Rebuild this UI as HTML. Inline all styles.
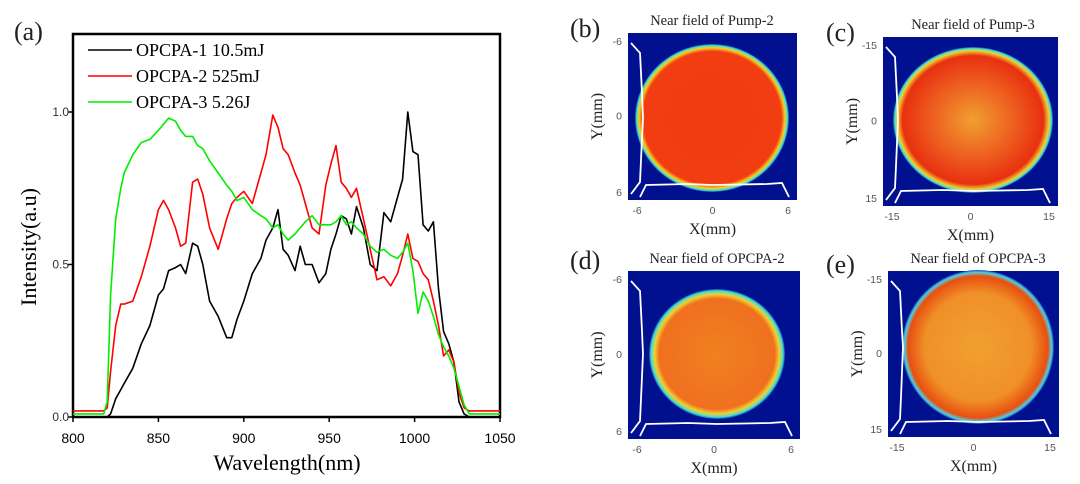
<!DOCTYPE html>
<html><head><meta charset="utf-8"><style>
body{margin:0;background:#fff;width:1080px;height:484px;overflow:hidden}
svg{position:absolute;left:0;top:0}
</style></head><body>
<svg id="s" width="1080" height="484" xmlns="http://www.w3.org/2000/svg">
<defs>
<radialGradient id="gb"><stop offset="0" stop-color="#f03a10"/><stop offset="0.9" stop-color="#f23c12"/><stop offset="0.95" stop-color="#f6d020"/><stop offset="0.98" stop-color="#40e0d0"/><stop offset="1" stop-color="#1040c0"/></radialGradient>
<radialGradient id="gc"><stop offset="0" stop-color="#f0a030"/><stop offset="0.5" stop-color="#ee6020"/><stop offset="0.88" stop-color="#e83010"/><stop offset="0.95" stop-color="#f0d030"/><stop offset="0.98" stop-color="#40e0d0"/><stop offset="1" stop-color="#1040c0"/></radialGradient>
<radialGradient id="gd"><stop offset="0" stop-color="#f08020"/><stop offset="0.85" stop-color="#f07020"/><stop offset="0.92" stop-color="#f0d030"/><stop offset="0.97" stop-color="#40e0d0"/><stop offset="1" stop-color="#1040c0"/></radialGradient>
<radialGradient id="ge"><stop offset="0" stop-color="#f0a030"/><stop offset="0.7" stop-color="#f09028"/><stop offset="0.92" stop-color="#e85010"/><stop offset="0.97" stop-color="#50d0e0"/><stop offset="1" stop-color="#1040c0"/></radialGradient>
</defs>
<g font-family="Liberation Serif, serif" fill="#222">
<text x="14" y="40" font-size="26">(a)</text>
<text x="570" y="37" font-size="26">(b)</text>
<text x="826" y="41" font-size="26">(c)</text>
<text x="570" y="269" font-size="26">(d)</text>
<text x="826" y="273" font-size="26">(e)</text>
</g>
<g id="chart"></g>
<g id="imgs"></g>
</svg>
<script>
const wavelengths=[800,810,818,820,822,825,828,830,835,840,845,850,853,856,860,863,866,870,873,876,880,885,890,893,896,900,905,910,913,917,920,923,926,930,933,936,940,944,948,951,954,957,960,963,966,970,974,978,982,986,990,993,996,999,1002,1005,1008,1011,1014,1017,1020,1023,1026,1029,1032,1040,1050];
const opcpa1=[0,0,0,0,0.01,0.06,0.09,0.11,0.16,0.24,0.3,0.4,0.42,0.48,0.49,0.5,0.47,0.57,0.56,0.5,0.38,0.33,0.26,0.26,0.32,0.38,0.47,0.52,0.58,0.62,0.68,0.55,0.53,0.48,0.56,0.5,0.5,0.44,0.47,0.55,0.6,0.66,0.65,0.6,0.69,0.62,0.5,0.48,0.67,0.64,0.72,0.78,1.0,0.87,0.86,0.63,0.61,0.64,0.42,0.28,0.24,0.18,0.05,0.01,0,0,0];
const opcpa2=[0.02,0.02,0.02,0.03,0.15,0.3,0.37,0.37,0.38,0.46,0.56,0.68,0.71,0.68,0.62,0.56,0.57,0.77,0.78,0.73,0.62,0.55,0.65,0.7,0.72,0.74,0.7,0.8,0.86,0.99,0.95,0.88,0.86,0.8,0.76,0.7,0.62,0.6,0.76,0.83,0.89,0.77,0.75,0.72,0.75,0.65,0.55,0.45,0.46,0.43,0.47,0.53,0.6,0.52,0.51,0.47,0.45,0.38,0.3,0.2,0.22,0.18,0.08,0.03,0.02,0.02,0.02];
const opcpa3=[0.01,0.01,0.01,0.05,0.4,0.65,0.75,0.8,0.86,0.9,0.91,0.94,0.96,0.98,0.97,0.94,0.92,0.92,0.89,0.88,0.84,0.8,0.76,0.74,0.71,0.72,0.68,0.66,0.65,0.62,0.63,0.6,0.58,0.6,0.62,0.64,0.66,0.63,0.63,0.63,0.64,0.66,0.63,0.64,0.62,0.6,0.56,0.54,0.55,0.53,0.52,0.54,0.57,0.48,0.34,0.41,0.38,0.33,0.27,0.23,0.2,0.16,0.1,0.04,0.01,0.01,0.01];
const xTicks=[800,850,900,950,1000,1050];
const yTicks=[0.0,0.5,1.0];
const seriesNames=["OPCPA-1 10.5mJ","OPCPA-2 525mJ","OPCPA-3 5.26J"];
const NS="http://www.w3.org/2000/svg";
const L=73,R=500,T=34,B=417;
const xs=v=>L+(v-800)/250*(R-L);
const ys=v=>B-v*(B-112);
function mk(t,a,p){const e=document.createElementNS(NS,t);for(const k in a)e.setAttribute(k,a[k]);(p||document.getElementById('chart')).appendChild(e);return e;}
let e;
e=mk('rect',{x:L,y:T,width:R-L,height:B-T,fill:'none',stroke:'#000','stroke-width':2.5});

xTicks.forEach(t=>{
 e=mk('line',{x1:xs(t),x2:xs(t),y1:B,y2:B+5,stroke:'#000','stroke-width':1.5});
 
 e=mk('text',{x:xs(t),y:B+26,'text-anchor':'middle','font-family':'Liberation Sans, sans-serif','font-size':14});
 e.textContent=t;
});
yTicks.forEach(t=>{
 e=mk('line',{x1:L-5,x2:L,y1:ys(t),y2:ys(t),stroke:'#000','stroke-width':1.5});
 
 e=mk('text',{x:L-4,y:ys(t)+4,'text-anchor':'end','font-family':'Liberation Sans, sans-serif','font-size':12,fill:'#333'});
 e.textContent=t.toFixed(1);
});
e=mk('text',{x:287,y:470,'text-anchor':'middle','font-family':'Liberation Serif, serif','font-size':22});
e.textContent='Wavelength(nm)';
e=mk('text',{x:0,y:0,'text-anchor':'middle','font-family':'Liberation Serif, serif','font-size':22,transform:'translate(36,247) rotate(-90)'});
e.textContent='Intensity(a.u)';
const cols=['#000','#ff0000','#00ee00'];
[opcpa1,opcpa2,opcpa3].forEach((s,i)=>{
 e=mk('polyline',{points:s.map((v,j)=>xs(wavelengths[j]).toFixed(1)+','+ys(v).toFixed(1)).join(' '),fill:'none',stroke:cols[i],'stroke-width':1.6,'stroke-linejoin':'round'});
 
});
seriesNames.forEach((n,i)=>{
 const y=50+i*26;
 e=mk('line',{x1:88,x2:132,y1:y,y2:y,stroke:cols[i],'stroke-width':1.6});
 
 e=mk('text',{x:136,y:y+6,'font-family':'Liberation Serif, serif','font-size':18});
 e.textContent=n;
});
const panels=[
 {n:'b',title:'Near field of Pump-2',x:628,y:33,w:169,h:167,cx:712,cy:118,rx:74,ry:71,g:'gb',t:['-6','0','6']},
 {n:'c',title:'Near field of Pump-3',x:883,y:37,w:175,h:169,cx:973,cy:120,rx:77,ry:70,g:'gc',t:['-15','0','15']},
 {n:'d',title:'Near field of OPCPA-2',x:628,y:271,w:172,h:168,cx:717,cy:354,rx:65,ry:62,g:'gd',t:['-6','0','6']},
 {n:'e',title:'Near field of OPCPA-3',x:888,y:271,w:171,h:166,cx:978,cy:347,rx:73,ry:74,g:'ge',t:['-15','0','15']}];
const ig=document.getElementById('imgs');
panels.forEach(p=>{
 const g=mk('g',{},ig);
 mk('rect',{x:p.x,y:p.y,width:p.w,height:p.h,fill:'#00108f'},g);
 mk('ellipse',{cx:p.cx,cy:p.cy,rx:p.rx+3,ry:p.ry+3,fill:'url(#'+p.g+')'},g);
 const x0=p.x+3,yb=p.y+p.h-3;
 mk('polyline',{points:`${x0},${p.y+10} ${x0+9},${p.y+20} ${x0+11},${p.y+60} ${x0+12},${p.cy} ${x0+10},${p.y+p.h-40} ${x0+9},${p.y+p.h-18} ${x0},${p.y+p.h-6}`,fill:'none',stroke:'#fff','stroke-width':1.8},g);
 mk('polyline',{points:`${p.x+12},${yb} ${p.x+18},${yb-12} ${p.x+60},${yb-13} ${p.cx},${yb-12} ${p.x+p.w-30},${yb-13} ${p.x+p.w-15},${yb-14} ${p.x+p.w-8},${yb}`,fill:'none',stroke:'#fff','stroke-width':1.8},g);
 e=mk('text',{x:p.cx,y:p.y-8,'text-anchor':'middle','font-family':'Liberation Serif, serif','font-size':14.5,fill:'#222'},ig);
 e.textContent=p.title;
 const mx=p.x+p.w/2,my=p.y+p.h/2;
 [[p.y+12,p.t[0]],[my+3,p.t[1]],[p.y+p.h-4,p.t[2]]].forEach(a=>{
  e=mk('text',{x:p.x-6,y:a[0],'text-anchor':'end','font-family':'Liberation Sans, sans-serif','font-size':10.5,fill:'#555'},ig);
  e.textContent=a[1];
 });
 [[p.x+9,p.t[0]],[mx,p.t[1]],[p.x+p.w-9,p.t[2]]].forEach(a=>{
  e=mk('text',{x:a[0],y:p.y+p.h+14,'text-anchor':'middle','font-family':'Liberation Sans, sans-serif','font-size':10.5,fill:'#555'},ig);
  e.textContent=a[1];
 });
 e=mk('text',{x:mx,y:p.y+p.h+34,'text-anchor':'middle','font-family':'Liberation Serif, serif','font-size':16,fill:'#222'},ig);
 e.textContent='X(mm)';
 e=mk('text',{x:0,y:0,'text-anchor':'middle','font-family':'Liberation Serif, serif','font-size':16,fill:'#222',transform:`translate(${p.x-26},${my}) rotate(-90)`},ig);
 e.textContent='Y(mm)';
});
</script>
</body></html>
